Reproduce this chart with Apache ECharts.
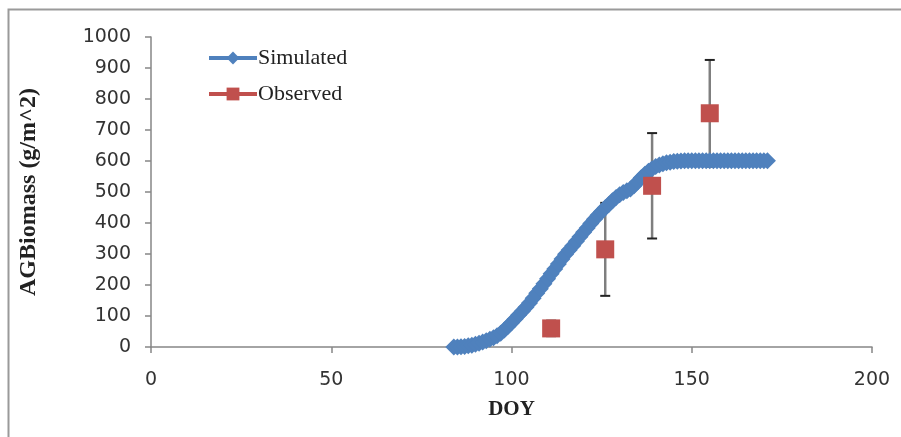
<!DOCTYPE html>
<html>
<head>
<meta charset="utf-8">
<script src="https://cdn.jsdelivr.net/npm/echarts@6/dist/echarts.min.js"></script>
<style>
  html, body { margin: 0; padding: 0; background: #fff; }
  #chart { width: 901px; height: 437px; }
</style>
</head>
<body>
<div id="chart"></div>
<script>
// simulated daily biomass (DOY 84..171)
const simDoy = [84, 85, 86, 87, 88, 89, 90, 91, 92, 93, 94, 95, 96, 97, 98, 99, 100,
  101, 102, 103, 104, 105, 106, 107, 108, 109, 110, 111, 112, 113, 114, 115, 116, 117,
  118, 119, 120, 121, 122, 123, 124, 125, 126, 127, 128, 129, 130, 131, 132, 133, 134,
  135, 136, 137, 138, 139, 140, 141, 142, 143, 144, 145, 146, 147, 148, 149, 150, 151,
  152, 153, 154, 155, 156, 157, 158, 159, 160, 161, 162, 163, 164, 165, 166, 167, 168,
  169, 170, 171];
const simBiomass = [0, 0, 1, 2, 4, 6, 9, 12, 16, 20, 25, 30, 36, 44, 55, 66, 78,
  90, 103, 115, 128, 142, 157, 173, 188, 204, 220, 236, 252, 268, 284, 299, 313, 327,
  341, 356, 370, 384, 398, 412, 425, 437, 449, 460, 472, 482, 491, 498, 504, 510, 520,
  533, 546, 557, 567, 575, 582, 587, 591, 594, 596, 598, 599, 600, 601, 601, 601, 601,
  601, 601, 601, 601, 601, 601, 601, 601, 601, 601, 601, 601, 601, 601, 601, 601, 601,
  601, 601, 601];

// observed samples with error (+/-)
const obsDoy = [111, 126, 139, 155];
const obsBiomass = [60, 315, 520, 754];
const obsErr = [25, 150, 170, 172];

const xTicks = { min: 0, max: 200, interval: 50 };
const yTicks = { min: 0, max: 1000, interval: 100 };

const blue = '#4F81BD';
const red = '#C0504D';
const axisGray = '#868686';

const chart = echarts.init(document.getElementById('chart'));

const simData = simDoy.map((d, i) => [d, simBiomass[i]]);
const obsData = obsDoy.map((d, i) => [d, obsBiomass[i]]);
const errData = obsDoy.map((d, i) => [d, obsBiomass[i] - obsErr[i], obsBiomass[i] + obsErr[i]]);

const option = {
  animation: false,
  backgroundColor: '#fff',
  graphic: [{
    type: 'rect',
    shape: { x: 8.5, y: 9.5, width: 900, height: 440 },
    style: { fill: 'none', stroke: '#9a9a9a', lineWidth: 2 },
    silent: true
  }],
  grid: { left: 151, right: 29, top: 37, bottom: 90 },
  legend: {
    orient: 'vertical',
    left: 202,
    top: 42,
    itemWidth: 48,
    itemHeight: 16,
    itemGap: 14,
    textStyle: { fontFamily: 'Liberation Serif', fontSize: 22, color: '#222', padding: [0, 0, 0, -4] },
    data: [
      { name: 'Simulated', lineStyle: { width: 4, color: blue } },
      { name: 'Observed', lineStyle: { width: 4, color: red, opacity: 1 } }
    ]
  },
  xAxis: {
    type: 'value',
    min: xTicks.min,
    max: xTicks.max,
    interval: xTicks.interval,
    name: 'DOY',
    nameLocation: 'middle',
    nameGap: 52,
    nameTextStyle: { fontFamily: 'Liberation Serif', fontSize: 21, fontWeight: 'bold', color: '#222' },
    axisLine: { lineStyle: { color: axisGray, width: 1.5 } },
    axisTick: { inside: false, length: 6, lineStyle: { color: axisGray, width: 1.5 } },
    axisLabel: { margin: 24, fontFamily: 'DejaVu Sans', fontSize: 19, color: '#333' },
    splitLine: { show: false }
  },
  yAxis: {
    type: 'value',
    min: yTicks.min,
    max: yTicks.max,
    interval: yTicks.interval,
    name: 'AGBiomass (g/m^2)',
    nameLocation: 'middle',
    nameRotate: 90,
    nameGap: 110,
    nameTextStyle: { fontFamily: 'Liberation Serif', fontSize: 24, fontWeight: 'bold', color: '#222' },
    axisLine: { show: true, lineStyle: { color: axisGray, width: 1.5 } },
    axisTick: { show: true, inside: false, length: 6, lineStyle: { color: axisGray, width: 1.5 } },
    axisLabel: { margin: 20, fontFamily: 'DejaVu Sans', fontSize: 19, color: '#333', formatter: v => String(v) },
    splitLine: { show: false }
  },
  series: [
    {
      name: 'Error',
      type: 'custom',
      data: errData,
      z: 1,
      renderItem: function (params, api) {
        const x = api.value(0);
        const lo = api.coord([x, api.value(1)]);
        const hi = api.coord([x, api.value(2)]);
        const cap = 5;
        return {
          type: 'group',
          children: [
            { type: 'line', shape: { x1: lo[0], y1: lo[1], x2: hi[0], y2: hi[1] },
              style: { stroke: '#7f7f7f', lineWidth: 2.5 } },
            { type: 'line', shape: { x1: hi[0] - cap, y1: hi[1], x2: hi[0] + cap, y2: hi[1] },
              style: { stroke: '#222', lineWidth: 2 } },
            { type: 'line', shape: { x1: lo[0] - cap, y1: lo[1], x2: lo[0] + cap, y2: lo[1] },
              style: { stroke: '#222', lineWidth: 2 } }
          ]
        };
      }
    },
    {
      name: 'Simulated',
      type: 'line',
      data: simData,
      symbol: 'diamond',
      symbolSize: 17,
      showAllSymbol: true,
      itemStyle: { color: blue },
      lineStyle: { color: blue, width: 5 },
      z: 2
    },
    {
      name: 'Observed',
      type: 'line',
      data: obsData,
      symbol: 'rect',
      symbolSize: 18,
      showAllSymbol: true,
      itemStyle: { color: red },
      lineStyle: { color: red, width: 4, opacity: 0 },
      z: 4
    }
  ]
};

chart.setOption(option);
</script>
</body>
</html>
